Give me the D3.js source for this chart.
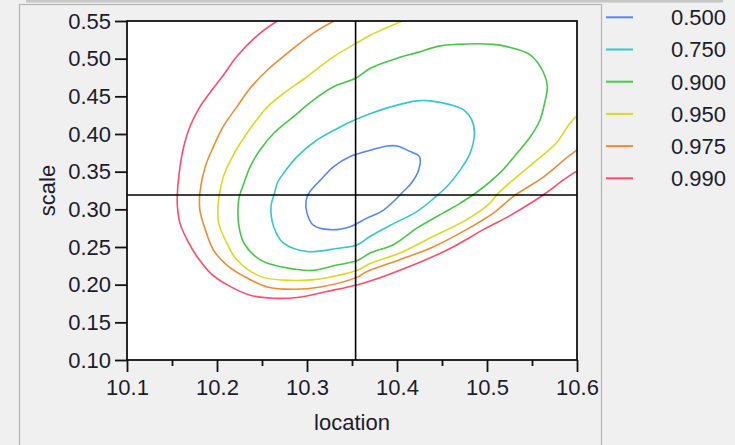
<!DOCTYPE html>
<html><head><meta charset="utf-8">
<script src="https://cdn.jsdelivr.net/npm/d3@7"></script>
<style>body{margin:0;background:#f0f0f0}svg{display:block}</style>
</head><body>
<script>
// ---- data ----
const levels = ["0.500","0.750","0.900","0.950","0.975","0.990"];
const colors = ["#5585ff","#33c9c9","#44c944","#dada22","#f08a33","#ff4d66"];
const xTicks = [10.1,10.2,10.3,10.4,10.5,10.6];
const xMinorTicks = [10.15,10.25,10.35,10.45,10.55];
const yTicks = [0.10,0.15,0.20,0.25,0.30,0.35,0.40,0.45,0.50,0.55];
const crossLoc = 10.354;
const crossScale = 0.319;

const contour500 = [[10.400,0.384],[10.389,0.384],[10.366,0.377],[10.348,0.370],[10.330,0.357],[10.315,0.339],[10.303,0.323],[10.299,0.312],[10.300,0.295],[10.307,0.279],[10.326,0.273],[10.348,0.277],[10.366,0.288],[10.385,0.299],[10.409,0.326],[10.416,0.335],[10.424,0.352],[10.425,0.370],[10.414,0.377]];
const contour750 = [[10.437,0.444],[10.422,0.444],[10.396,0.437],[10.370,0.427],[10.348,0.416],[10.330,0.405],[10.311,0.392],[10.289,0.370],[10.274,0.348],[10.267,0.335],[10.264,0.322],[10.260,0.304],[10.263,0.277],[10.274,0.255],[10.300,0.244],[10.333,0.248],[10.356,0.253],[10.370,0.264],[10.396,0.281],[10.422,0.297],[10.449,0.323],[10.459,0.335],[10.470,0.352],[10.481,0.374],[10.486,0.401],[10.483,0.419],[10.474,0.432],[10.459,0.439]];
const contour900 = [[10.466,0.519],[10.448,0.517],[10.422,0.508],[10.396,0.499],[10.370,0.487],[10.354,0.474],[10.330,0.463],[10.307,0.445],[10.285,0.423],[10.263,0.401],[10.248,0.379],[10.237,0.357],[10.230,0.335],[10.226,0.322],[10.224,0.312],[10.224,0.281],[10.230,0.255],[10.248,0.233],[10.274,0.223],[10.307,0.219],[10.333,0.226],[10.356,0.232],[10.370,0.242],[10.396,0.253],[10.422,0.275],[10.451,0.295],[10.470,0.308],[10.489,0.323],[10.514,0.348],[10.533,0.374],[10.548,0.396],[10.559,0.419],[10.564,0.441],[10.567,0.463],[10.563,0.481],[10.548,0.505],[10.522,0.516],[10.507,0.519]];
const contour950 = [[10.406,0.550],[10.370,0.531],[10.354,0.520],[10.330,0.503],[10.300,0.476],[10.274,0.454],[10.256,0.436],[10.241,0.414],[10.226,0.388],[10.215,0.365],[10.207,0.343],[10.203,0.322],[10.201,0.304],[10.202,0.281],[10.211,0.255],[10.222,0.233],[10.248,0.211],[10.274,0.206],[10.311,0.207],[10.337,0.213],[10.356,0.219],[10.370,0.228],[10.403,0.242],[10.440,0.264],[10.477,0.286],[10.503,0.308],[10.513,0.322],[10.533,0.343],[10.555,0.365],[10.577,0.388],[10.592,0.414],[10.600,0.424]];
const contour975 = [[10.330,0.550],[10.307,0.534],[10.278,0.507],[10.256,0.485],[10.237,0.461],[10.222,0.436],[10.207,0.410],[10.196,0.383],[10.187,0.357],[10.181,0.322],[10.181,0.299],[10.187,0.273],[10.196,0.246],[10.211,0.226],[10.230,0.211],[10.256,0.197],[10.285,0.194],[10.315,0.197],[10.356,0.210],[10.366,0.217],[10.403,0.233],[10.440,0.250],[10.477,0.273],[10.507,0.295],[10.529,0.317],[10.563,0.343],[10.585,0.365],[10.600,0.379]];
const contour990 = [[10.267,0.550],[10.248,0.534],[10.222,0.503],[10.207,0.478],[10.196,0.461],[10.181,0.436],[10.170,0.410],[10.163,0.383],[10.159,0.357],[10.156,0.322],[10.156,0.304],[10.159,0.281],[10.167,0.259],[10.178,0.237],[10.193,0.215],[10.211,0.200],[10.237,0.186],[10.263,0.182],[10.289,0.183],[10.322,0.191],[10.356,0.200],[10.385,0.211],[10.422,0.228],[10.459,0.248],[10.496,0.273],[10.526,0.292],[10.551,0.310],[10.566,0.322],[10.585,0.339],[10.600,0.351]];
const contours = [contour500, contour750, contour900, contour950, contour975, contour990];
const closed = [true, true, true, false, false, false];

// ---- drawing ----
const W = 735, H = 445;
const FONT = "'Liberation Sans', Arial, sans-serif";
const svg = d3.select("body").append("svg").attr("width", W).attr("height", H);

svg.append("rect").attr("x",0).attr("y",0).attr("width",W).attr("height",H).attr("fill","#f0f0f0");
svg.append("rect").attr("x",26).attr("y",0).attr("width",697).attr("height",2.5).attr("fill","#c6c6c6");
svg.append("rect").attr("x",19.5).attr("y",4.5).attr("width",582).attr("height",460)
  .attr("fill","#f0f0f0").attr("stroke","#b4b4b4").attr("stroke-width",1.2);

const x = d3.scaleLinear().domain([10.1,10.6]).range([127,577]);
const y = d3.scaleLinear().domain([0.10,0.55]).range([360,21]);

svg.append("rect").attr("x",127).attr("y",21).attr("width",450).attr("height",339).attr("fill","#fff");

svg.append("clipPath").attr("id","clip").append("rect")
  .attr("x",127).attr("y",21).attr("width",450).attr("height",339);

const g = svg.append("g").attr("clip-path","url(#clip)");
contours.forEach((c,i)=>{
  const line = d3.line().x(d=>x(d[0])).y(d=>y(d[1]))
    .curve(closed[i] ? d3.curveCatmullRomClosed.alpha(0.5) : d3.curveCatmullRom.alpha(0.5));
  g.append("path").attr("d", line(c)).attr("fill","none")
    .attr("stroke", colors[i]).attr("stroke-width",1.6);
});

// crosshair
svg.append("line").attr("x1",x(crossLoc)).attr("x2",x(crossLoc)).attr("y1",21).attr("y2",360)
  .attr("stroke","#000").attr("stroke-width",1.6);
svg.append("line").attr("x1",127).attr("x2",577).attr("y1",y(crossScale)).attr("y2",y(crossScale))
  .attr("stroke","#000").attr("stroke-width",1.6);

// frame
svg.append("rect").attr("x",127).attr("y",21).attr("width",450).attr("height",339)
  .attr("fill","none").attr("stroke","#111").attr("stroke-width",1.8);

// axes
const yAxis = svg.append("g").attr("transform","translate(127,0)")
  .call(d3.axisLeft(y).tickValues(yTicks).tickSize(12).tickPadding(4).tickFormat(d3.format(".2f")));
const xAxis = svg.append("g").attr("transform","translate(0,360)")
  .call(d3.axisBottom(x).tickValues(xTicks).tickSize(12).tickPadding(7).tickFormat(d3.format(".1f")));
const xMinor = svg.append("g").attr("transform","translate(0,360)")
  .call(d3.axisBottom(x).tickValues(xMinorTicks).tickSize(6).tickFormat(""));
[yAxis,xAxis,xMinor].forEach(a=>{
  a.select(".domain").remove();
  a.selectAll(".tick line").attr("stroke","#111").attr("stroke-width",1.8);
  a.selectAll("text").attr("font-family",FONT).attr("font-size",22).attr("fill","#1c1c2c");
});

svg.append("text").attr("transform","translate(55,190.5) rotate(-90)")
  .attr("text-anchor","middle").attr("font-family",FONT).attr("font-size",22).attr("fill","#1c1c2c").text("scale");
svg.append("text").attr("x",352).attr("y",430)
  .attr("text-anchor","middle").attr("font-family",FONT).attr("font-size",22).attr("fill","#1c1c2c").text("location");

// legend
const lg = svg.append("g");
levels.forEach((lv,i)=>{
  const yy = 17.3 + 32.2*i;
  lg.append("line").attr("x1",606).attr("x2",633).attr("y1",yy).attr("y2",yy)
    .attr("stroke",colors[i]).attr("stroke-width",2);
  lg.append("text").attr("x",726).attr("y",yy).attr("dy","0.36em").attr("text-anchor","end")
    .attr("font-family",FONT).attr("font-size",22).attr("fill","#1c1c2c").text(lv);
});
</script>
</body></html>
